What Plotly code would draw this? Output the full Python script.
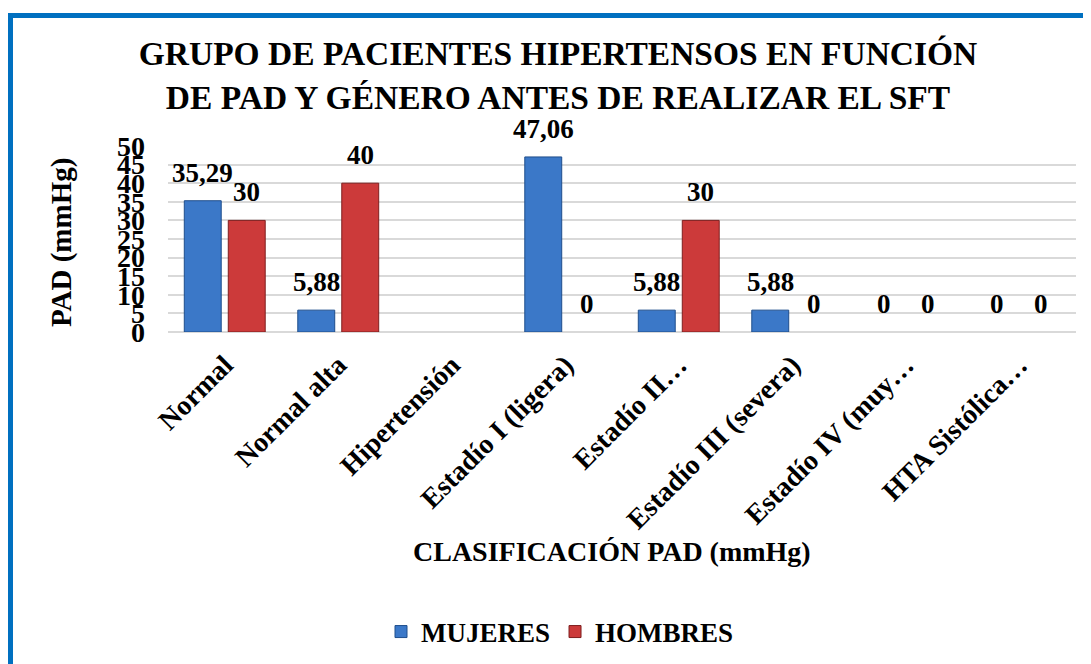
import plotly.graph_objects as go

categories = ["Normal", "Normal alta", "Hipertensión", "Estadío I (ligera)", "Estadío II…",
              "Estadío III (severa)", "Estadío IV (muy…", "HTA Sistólica…"]
mujeres = [35.29, 5.88, None, 47.06, 5.88, 5.88, 0, 0]
hombres = [30, 40, None, 0, 30, 0, 0, 0]
y_ticks = [0, 5, 10, 15, 20, 25, 30, 35, 40, 45, 50]

FONT = "Liberation Serif"
OFF = 8  # browser body margin
W, H = 1091 - OFF, 664 - OFF
L, R, T = 168 - OFF, 1091 - 1076, 146 - OFF
B = H - (332 - OFF)

def fmt(v):
    return f"{v:g}".replace(".", ",")

def bold(s):
    return f"<b>{s}</b>"

def edge(vals):
    return [1 if v else 0 for v in vals]

fig = go.Figure()
fig.add_bar(name=bold("MUJERES"), x=categories, y=mujeres,
            marker=dict(color="#3B78C8", line=dict(color="#1F4E8C", width=edge(mujeres))))
fig.add_bar(name=bold("HOMBRES"), x=categories, y=hombres,
            marker=dict(color="#CC3A3A", line=dict(color="#7E1E1E", width=edge(hombres))))

pw, ph = W - L - R, H - T - B
def px(xp):  # page pixel -> paper x
    return (xp - OFF - L) / pw
def py(yp):  # page pixel -> paper y
    return (H - B - (yp - OFF)) / ph

annotations = []
for series, shift in ((mujeres, -22), (hombres, 22)):
    for c, v in zip(categories, series):
        if v is None:
            continue
        annotations.append(dict(x=c, y=v, xref="x", yref="y", text=bold(fmt(v)), showarrow=False,
                                xshift=shift, yshift=11, yanchor="bottom",
                                font=dict(family=FONT, size=27, color="black")))

annotations.append(dict(text=bold("CLASIFICACIÓN PAD (mmHg)"), xref="paper", yref="paper",
                        x=px(612), y=py(551), xanchor="center", yanchor="middle", showarrow=False,
                        font=dict(family=FONT, size=28, color="black")))
annotations.append(dict(text=bold("PAD (mmHg)"), xref="paper", yref="paper", textangle=-90,
                        x=px(61), y=py(243), xanchor="center", yanchor="middle", showarrow=False,
                        font=dict(family=FONT, size=29, color="black")))

shapes = [
    dict(type="line", xref="paper", yref="paper", x0=px(10.5), x1=px(10.5), y0=py(13), y1=py(H + 40),
         line=dict(color="#0070C0", width=5)),
    dict(type="line", xref="paper", yref="paper", x0=px(8), x1=px(W + 40), y0=py(15.5), y1=py(15.5),
         line=dict(color="#0070C0", width=5)),
]

fig.update_layout(
    width=W, height=H,
    margin=dict(l=L, r=R, t=T, b=B, autoexpand=False),
    paper_bgcolor="white", plot_bgcolor="white",
    barmode="group", bargap=0.225, bargroupgap=0.16,
    font=dict(family=FONT, color="black"),
    title=dict(text=bold("GRUPO DE PACIENTES HIPERTENSOS EN FUNCIÓN<br>DE PAD Y GÉNERO ANTES DE REALIZAR EL SFT"),
               x=(558 - OFF) / W, xanchor="center", y=1 - (65 - OFF) / H, yanchor="middle",
               font=dict(family=FONT, size=33.5, color="black")),
    xaxis=dict(tickangle=-45, tickfont=dict(family=FONT, size=28),
               tickvals=categories, ticktext=[bold(c) for c in categories],
               ticklabelstandoff=10,
               showgrid=False, showline=False, ticks=""),
    yaxis=dict(range=[0, 50], tickvals=y_ticks, ticktext=[bold(t) for t in y_ticks],
               showgrid=True, gridcolor="#D9D9D9", gridwidth=1.5,
               zeroline=True, zerolinecolor="#D9D9D9", zerolinewidth=1.5,
               tickfont=dict(family=FONT, size=28), ticklabelstandoff=22),
    legend=dict(orientation="h", x=px(560), xanchor="center", y=py(632), yanchor="middle",
                font=dict(family=FONT, size=27), itemwidth=30,
                traceorder="normal"),
    annotations=annotations,
    shapes=shapes,
)

fig.write_html("out.html")
